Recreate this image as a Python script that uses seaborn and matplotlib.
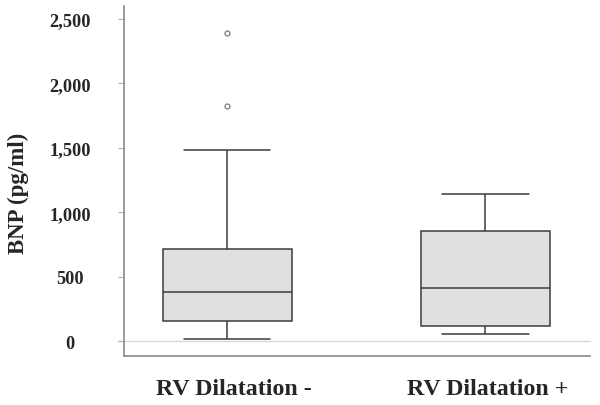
import matplotlib
matplotlib.use("Agg")
import matplotlib.pyplot as plt
import seaborn as sns
import pandas as pd
from matplotlib.ticker import FuncFormatter
from matplotlib.transforms import ScaledTranslation

# ---- data ----
categories = ["RV Dilatation -", "RV Dilatation +"]
# sample values reproducing the box statistics seen in the chart
bnp_rv_minus = [16, 60, 110, 158, 230, 300, 383, 480, 600, 717, 1483, 1827, 2391]
bnp_rv_plus = [54, 80, 119, 250, 411, 600, 852, 1000, 1144]
y_ticks = [0, 500, 1000, 1500, 2000, 2500]
y_label = "BNP (pg/ml)"

df = pd.DataFrame({
    "group": [categories[0]] * len(bnp_rv_minus) + [categories[1]] * len(bnp_rv_plus),
    "bnp": bnp_rv_minus + bnp_rv_plus,
})

sns.set_style("white")
plt.rcParams["font.family"] = ["Liberation Serif", "DejaVu Serif"]
plt.rcParams["font.weight"] = "bold"

fig = plt.figure(figsize=(6.0, 4.06), dpi=100)
ax = fig.add_axes([124 / 600, 49 / 406, 466 / 600, 350 / 406])

sns.boxplot(
    data=df, x="group", y="bnp", order=categories, ax=ax,
    color="#e0e0e0", saturation=1, width=0.5, linecolor="#3c3c3c", linewidth=1.1,
    flierprops=dict(marker="o", markersize=3.6, markerfacecolor="none",
                    markeredgecolor="#6e6e6e", markeredgewidth=0.8),
)

# widen caps to two thirds of the box width
for ln in ax.lines:
    xd, yd = ln.get_xdata(), ln.get_ydata()
    if len(xd) == 2 and yd[0] == yd[1]:
        ext = abs(xd[1] - xd[0])
        if 0.2 < ext < 0.3:
            c = (xd[0] + xd[1]) / 2
            ln.set_xdata([c - 0.1667, c + 0.1667])

ax.axhline(0, color="#d8d8d8", lw=1.0, zorder=0, xmin=-0.013, clip_on=False)

ax.set_xlim(-0.401, 1.405)
ax.set_ylim(-116, 2601)
ax.set_yticks(y_ticks)
ax.yaxis.set_major_formatter(FuncFormatter(lambda v, p: f"{int(v):,}"))

for s in ["top", "right"]:
    ax.spines[s].set_visible(False)
for s in ["left", "bottom"]:
    ax.spines[s].set_color("#8a8a8a")
    ax.spines[s].set_linewidth(1.2)

ax.tick_params(axis="y", left=True, length=4.3, width=0.8, color="#b0b0b0",
               labelsize=13.2, pad=34.6)
for t in ax.get_yticklabels():
    t.set_ha("center")
    t.set_fontweight("bold")

# category labels drawn as text under each box (slight rightward offsets as in the reference)
ax.set_xticklabels([])
ax.tick_params(axis="x", bottom=False)
offsets_px = [6, 2.5]
for i, (lab, off) in enumerate(zip(categories, offsets_px)):
    tr = ax.get_xaxis_transform() + ScaledTranslation(off / 100, -22.5 / 100, fig.dpi_scale_trans)
    ax.text(i, 0, lab, transform=tr, ha="center", va="top",
            fontsize=17.2, fontweight="bold")

ax.set_xlabel("")
ax.set_ylabel("")
fig.text(18 / 600, 1 - 193 / 406, y_label, rotation=90, ha="center", va="center",
         fontsize=16.5, fontweight="bold")

fig.savefig("out.png", dpi=100)
